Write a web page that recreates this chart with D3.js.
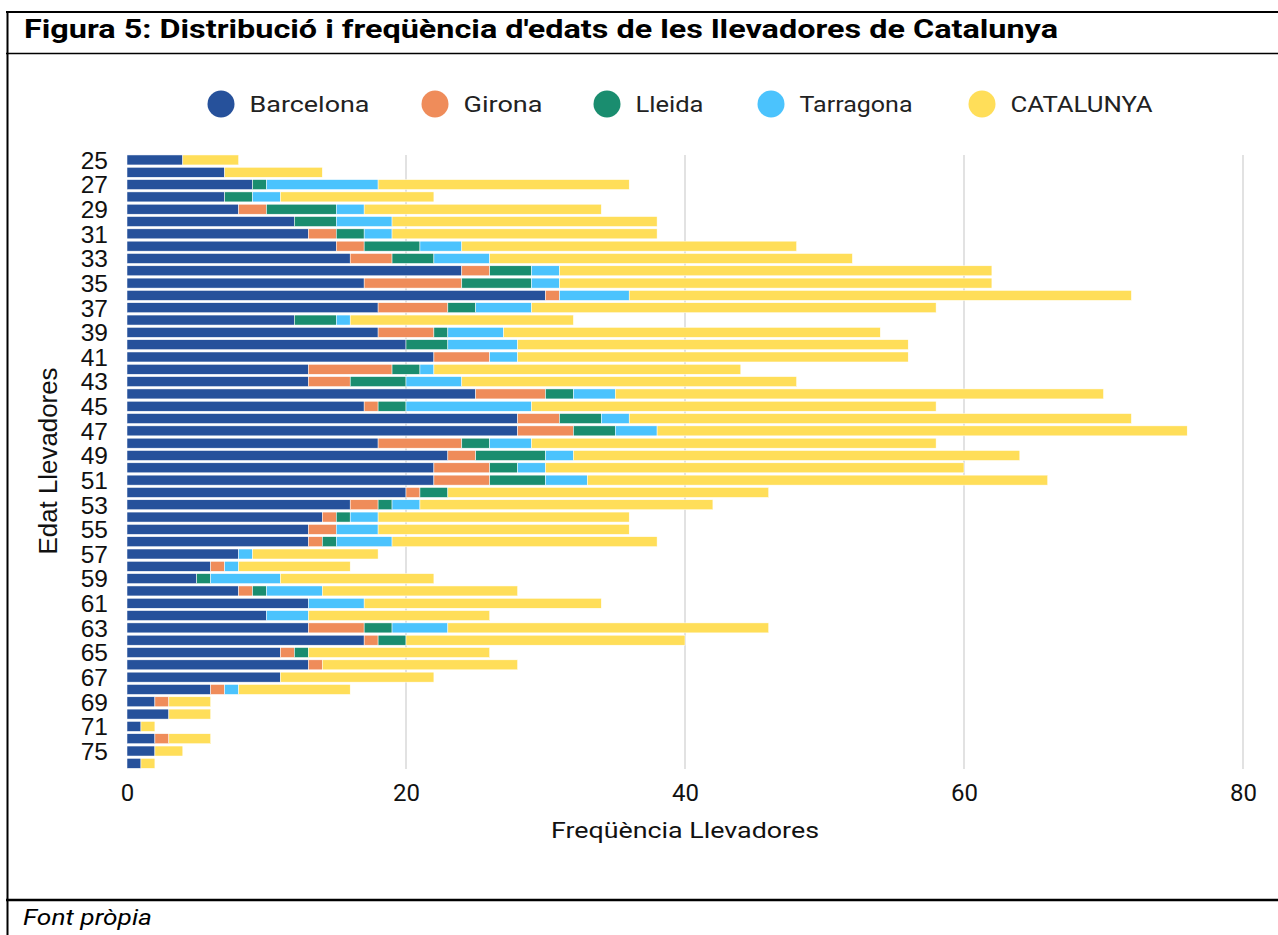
<!DOCTYPE html>
<html><head><meta charset="utf-8">
<script src="https://cdn.jsdelivr.net/npm/d3@7"></script>
<style>html,body{margin:0;padding:0;background:#fff;}svg{display:block;}</style>
</head><body>
<svg id="c" width="1278" height="935"></svg>
<script>
const ages = ["25","26","27","28","29","30","31","32","33","34","35","36","37","38","39","40","41","42","43","44","45","46","47","48","49","50","51","52","53","54","55","56","57","58","59","60","61","62","63","64","65","66","67","68","69","70","71","72","75","76"];
const barcelona = [4,7,9,7,8,12,13,15,16,24,17,30,18,12,18,20,22,13,13,25,17,28,28,18,23,22,22,20,16,14,13,13,8,6,5,8,13,10,13,17,11,13,11,6,2,3,1,2,2,1];
const girona    = [0,0,0,0,2,0,2,2,3,2,7,1,5,0,4,0,4,6,3,5,1,3,4,6,2,4,4,1,2,1,2,1,0,1,0,1,0,0,4,1,1,1,0,1,1,0,0,1,0,0];
const lleida    = [0,0,1,2,5,3,2,4,3,3,5,0,2,3,1,3,0,2,4,2,2,3,3,2,5,2,4,2,1,1,0,1,0,0,1,1,0,0,2,2,1,0,0,0,0,0,0,0,0,0];
const tarragona = [0,0,8,2,2,4,2,3,4,2,2,5,4,1,4,5,2,1,4,3,9,2,3,3,2,2,3,0,2,2,3,4,1,1,5,4,4,3,4,0,0,0,0,1,0,0,0,0,0,0];
const catalunya = [4,7,18,11,17,19,19,24,26,31,31,36,29,16,27,28,28,22,24,35,29,36,38,29,32,30,33,23,21,18,18,19,9,8,11,14,17,13,23,20,13,14,11,8,3,3,1,3,2,1];
const seriesNames = ["Barcelona","Girona","Lleida","Tarragona","CATALUNYA"];
const seriesColors = ["#26519b","#ef8c5a","#1a8d6f","#4bc3fd","#ffde59"];
const xTicks = [0,20,40,60,80];

const svg = d3.select("#c");
const table = ages.map((a,i)=>({age:a, Barcelona:barcelona[i], Girona:girona[i], Lleida:lleida[i], Tarragona:tarragona[i], CATALUNYA:catalunya[i]}));

// frame
svg.append("line").attr("x1",6).attr("x2",1278).attr("y1",12).attr("y2",12).attr("stroke","#000").attr("stroke-width",2.2);
svg.append("line").attr("x1",7.5).attr("x2",7.5).attr("y1",11).attr("y2",935).attr("stroke","#000").attr("stroke-width",2);
svg.append("line").attr("x1",6).attr("x2",1278).attr("y1",53.5).attr("y2",53.5).attr("stroke","#000").attr("stroke-width",1.6);
svg.append("line").attr("x1",6).attr("x2",1278).attr("y1",900).attr("y2",900).attr("stroke","#000").attr("stroke-width",2.5);

svg.append("text").attr("x",24).attr("y",38)
  .attr("font-family","'Liberation Sans Narrow', Roboto, sans-serif").attr("font-weight","bold").attr("font-size",25)
  .attr("textLength",1034).attr("lengthAdjust","spacingAndGlyphs").attr("fill","#000")
  .text("Figura 5: Distribució i freqüència d'edats de les llevadores de Catalunya");

svg.append("text").attr("x",23).attr("y",925)
  .attr("font-family","'Liberation Sans Narrow', Roboto, sans-serif").attr("font-style","italic").attr("font-size",22)
  .attr("textLength",129).attr("lengthAdjust","spacingAndGlyphs").attr("fill","#000")
  .text("Font pròpia");

const x = d3.scaleLinear().domain([0,80]).range([127,1243]);
const y = d3.scaleBand().domain(ages).range([153.8,769.5]).paddingInner(0.19).paddingOuter(0.095);
const color = d3.scaleOrdinal().domain(seriesNames).range(seriesColors);

// gridlines
svg.append("g").selectAll("line").data(xTicks.filter(d=>d>0)).join("line")
  .attr("x1",d=>x(d)).attr("x2",d=>x(d)).attr("y1",155).attr("y2",769)
  .attr("stroke","#d9d9d9").attr("stroke-width",1.5);

// bars
const stacked = d3.stack().keys(seriesNames)(table);
svg.append("g").selectAll("g").data(stacked).join("g")
  .attr("fill",d=>color(d.key))
  .selectAll("rect").data(d=>d).join("rect")
  .attr("x",d=>x(d[0])).attr("y",d=>y(d.data.age))
  .attr("width",d=>Math.max(0,x(d[1])-x(d[0]))).attr("height",y.bandwidth())
  .attr("stroke","#fff").attr("stroke-width",0.5);

// y axis
const yAxis = d3.axisLeft(y).tickSize(0).tickPadding(0).tickValues(ages.filter((a,i)=>i%2===0));
const gy = svg.append("g").attr("transform","translate(108,0)").call(yAxis);
gy.select(".domain").remove();
gy.selectAll("text").attr("font-family","'Liberation Sans', Arial, sans-serif").attr("font-size",24.5).attr("fill","#111").attr("dy","0.36em");

// x axis
const xAxis = d3.axisBottom(x).tickValues(xTicks).tickSize(0).tickPadding(0);
const gx = svg.append("g").attr("transform","translate(0,783)").call(xAxis);
gx.select(".domain").remove();
gx.selectAll("text").attr("font-family","Roboto, sans-serif").attr("font-size",24).attr("fill","#111").attr("dy","0.76em");

svg.append("text").attr("x",685).attr("y",838).attr("text-anchor","middle")
  .attr("font-family","Roboto, sans-serif").attr("font-size",22).attr("fill","#111")
  .attr("textLength",268).attr("lengthAdjust","spacingAndGlyphs")
  .text("Freqüència Llevadores");

svg.append("text").attr("transform","translate(57,461) rotate(-90)").attr("text-anchor","middle")
  .attr("font-family","'Liberation Sans', Arial, sans-serif").attr("font-size",25.5).attr("fill","#111")
  .attr("textLength",187).attr("lengthAdjust","spacingAndGlyphs")
  .text("Edat Llevadores");

// legend
const legX = [221,435,607,771,982];
const legW = [120,79,68,113,142];
const leg = svg.append("g").selectAll("g").data(seriesNames).join("g")
  .attr("transform",(d,i)=>`translate(${legX[i]},104)`);
leg.append("circle").attr("r",13.5).attr("fill",d=>color(d));
leg.append("text").attr("x",28.5).attr("y",8).attr("font-family","Roboto, sans-serif").attr("font-size",22)
  .attr("fill","#222").attr("textLength",(d,i)=>legW[i]).attr("lengthAdjust","spacingAndGlyphs").text(d=>d);
</script>
</body></html>
